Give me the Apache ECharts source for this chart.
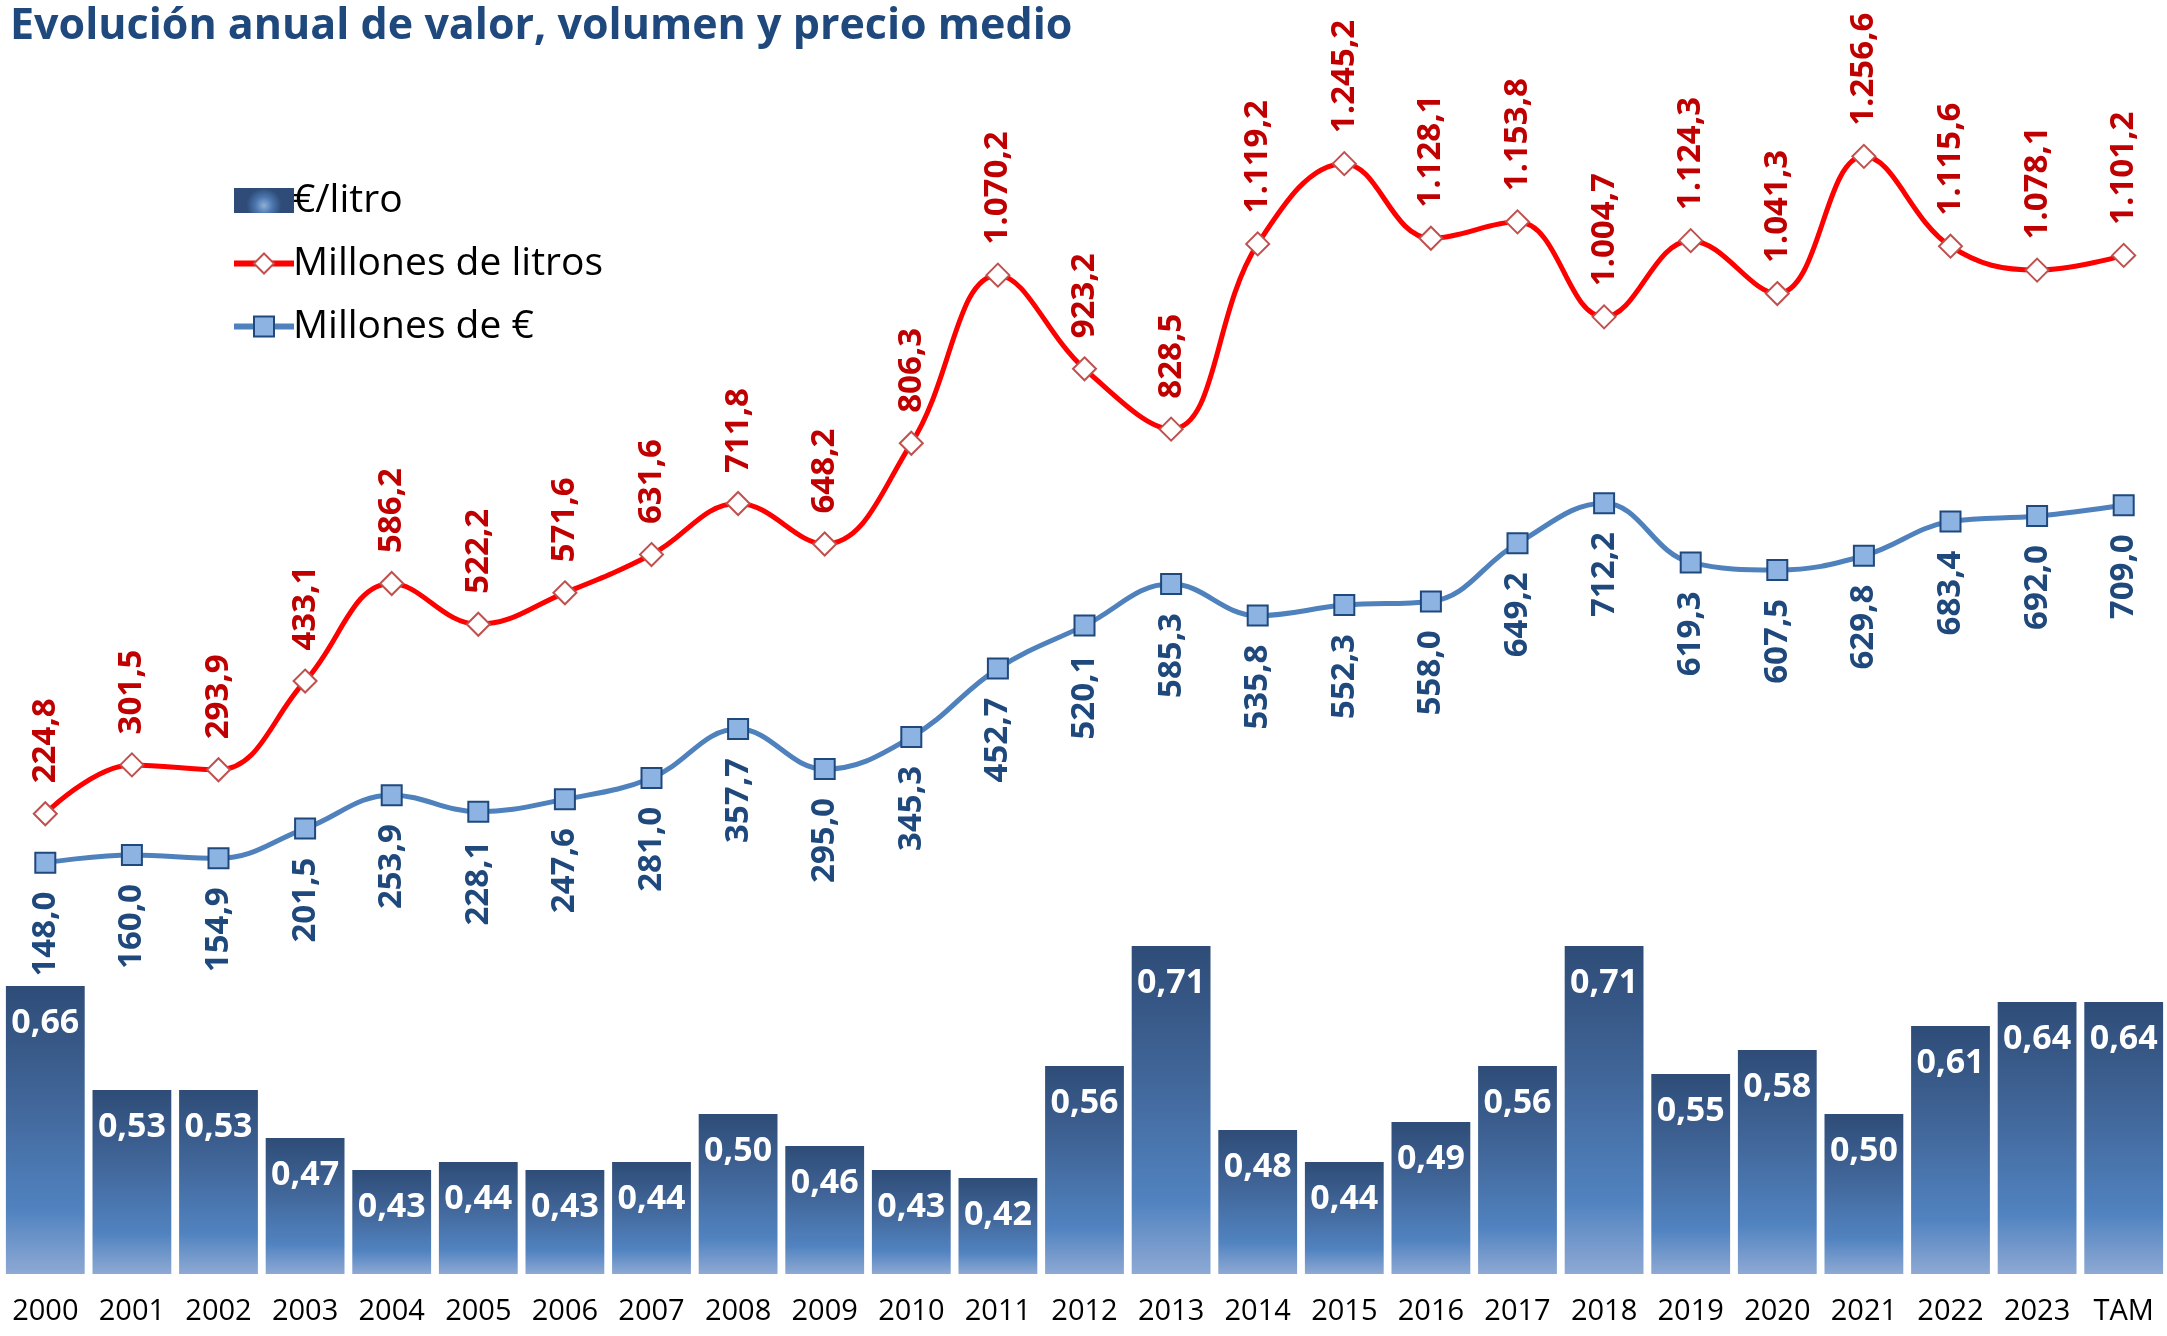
<!DOCTYPE html>
<html>
<head>
<meta charset="utf-8">
<script src="https://cdn.jsdelivr.net/npm/echarts@6/dist/echarts.min.js"></script>
<style>
  html, body { margin: 0; padding: 0; background: #fff; }
  #chart { width: 2167px; height: 1336px; }
</style>
</head>
<body>
<div id="chart"></div>
<script>
const years = ['2000', '2001', '2002', '2003', '2004', '2005', '2006', '2007', '2008', '2009',
  '2010', '2011', '2012', '2013', '2014', '2015', '2016', '2017', '2018', '2019',
  '2020', '2021', '2022', '2023', 'TAM'];
const litros = [224.8, 301.5, 293.9, 433.1, 586.2, 522.2, 571.6, 631.6, 711.8, 648.2,
  806.3, 1070.2, 923.2, 828.5, 1119.2, 1245.2, 1128.1, 1153.8, 1004.7, 1124.3,
  1041.3, 1256.6, 1115.6, 1078.1, 1101.2];
const euros = [148.0, 160.0, 154.9, 201.5, 253.9, 228.1, 247.6, 281.0, 357.7, 295.0,
  345.3, 452.7, 520.1, 585.3, 535.8, 552.3, 558.0, 649.2, 712.2, 619.3,
  607.5, 629.8, 683.4, 692.0, 709.0];
const precio = [0.66, 0.53, 0.53, 0.47, 0.43, 0.44, 0.43, 0.44, 0.50, 0.46,
  0.43, 0.42, 0.56, 0.71, 0.48, 0.44, 0.49, 0.56, 0.71, 0.55,
  0.58, 0.50, 0.61, 0.64, 0.64];

// formato español: 1.070,2
function fmt(v, dec) {
  const parts = v.toFixed(dec).split('.');
  parts[0] = parts[0].replace(/\B(?=(\d{3})+(?!\d))/g, '.');
  return parts.join(',');
}

const chart = echarts.init(document.getElementById('chart'));

const barGradient = new echarts.graphic.LinearGradient(0, 0, 0, 1, [
  { offset: 0, color: '#2E4C77' },
  { offset: 0.4, color: '#416699' },
  { offset: 0.78, color: '#5183C0' },
  { offset: 1, color: '#8EA9D4' }
]);
const legendBox = new echarts.graphic.RadialGradient(0.5, 0.7, 0.7, [
  { offset: 0, color: '#8FB0D6' },
  { offset: 0.5, color: '#4A76AE' },
  { offset: 1, color: '#2E4C77' }
]);

const option = {
  animation: false,
  title: {
    text: 'Evolución anual de valor, volumen y precio medio',
    left: 5,
    top: 0,
    textStyle: { fontFamily: 'Open Sans', fontWeight: 'bold', fontSize: 43, color: '#1F497D' }
  },
  legend: {
    orient: 'vertical',
    left: 226,
    top: 176,
    itemGap: 24,
    itemWidth: 60,
    itemHeight: 25,
    lineStyle: { width: 6 },
    data: [
      { name: '€/litro', icon: 'rect', itemStyle: { color: legendBox } },
      { name: 'Millones de litros' },
      { name: 'Millones de €' }
    ],
    textStyle: { fontFamily: 'Open Sans', fontSize: 39, color: '#000', padding: [0, 0, 0, -6] }
  },
  grid: [
    { left: 2, right: 0, top: 65, bottom: 379 },
    { left: 2, right: 0, top: 874, bottom: 62 }
  ],
  xAxis: [
    { gridIndex: 0, type: 'category', data: years, show: false },
    {
      gridIndex: 1, type: 'category', data: years,
      axisLine: { show: false }, axisTick: { show: false },
      axisLabel: { fontFamily: 'Open Sans', fontSize: 29, color: '#000', margin: 23 }
    }
  ],
  yAxis: [
    { gridIndex: 0, type: 'value', min: 0, max: 1400, show: false },
    { gridIndex: 1, type: 'value', min: 0.3, max: 0.8, show: false }
  ],
  series: [
    {
      name: '€/litro',
      type: 'bar',
      xAxisIndex: 1, yAxisIndex: 1,
      data: precio,
      barCategoryGap: '9%',
      itemStyle: { color: barGradient },
      label: {
        show: true, position: 'insideTop', distance: 20,
        fontFamily: 'Open Sans', fontWeight: 'bold', fontSize: 34, color: '#fff',
        formatter: p => fmt(p.value, 2)
      }
    },
    {
      name: 'Millones de litros',
      type: 'line',
      xAxisIndex: 0, yAxisIndex: 0,
      data: litros,
      smooth: 0.4,
      symbol: 'diamond',
      symbolSize: 23,
      lineStyle: { color: '#FF0000', width: 5 },
      itemStyle: { color: '#FFFFFF', borderColor: '#C0504D', borderWidth: 2 },
      label: {
        show: true, position: 'top', distance: 18, rotate: 90,
        align: 'left', verticalAlign: 'middle',
        fontFamily: 'Open Sans', fontWeight: 'bold', fontSize: 33, color: '#C00000',
        formatter: p => fmt(p.value, 1)
      },
      z: 5
    },
    {
      name: 'Millones de €',
      type: 'line',
      xAxisIndex: 0, yAxisIndex: 0,
      data: euros,
      smooth: 0.4,
      symbol: 'rect',
      symbolSize: 20,
      lineStyle: { color: '#4F81BD', width: 5 },
      itemStyle: { color: '#8DB3E2', borderColor: '#1F497D', borderWidth: 2 },
      label: {
        show: true, position: 'bottom', distance: 18, rotate: 90,
        align: 'right', verticalAlign: 'middle',
        fontFamily: 'Open Sans', fontWeight: 'bold', fontSize: 33, color: '#1F497D',
        formatter: p => fmt(p.value, 1)
      },
      z: 5
    }
  ]
};

chart.setOption(option);
</script>
</body>
</html>
